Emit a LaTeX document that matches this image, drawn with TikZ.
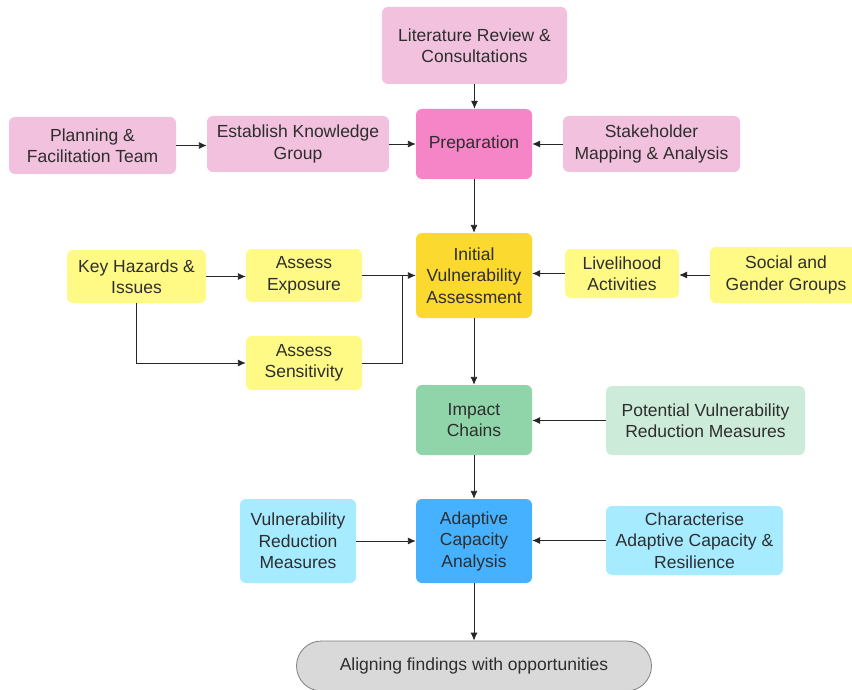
\documentclass[tikz,border=0pt]{standalone}
\usepackage{fontspec}
\setmainfont{Liberation Sans}
\usetikzlibrary{arrows.meta}
\definecolor{pinkL}{HTML}{F1C1DD}
\definecolor{pinkD}{HTML}{F585C7}
\definecolor{yelL}{HTML}{FFFA85}
\definecolor{yelD}{HTML}{FBD92F}
\definecolor{grnD}{HTML}{90D5A9}
\definecolor{grnL}{HTML}{CDEBD9}
\definecolor{bluD}{HTML}{45B1FF}
\definecolor{bluL}{HTML}{A6EBFF}
\definecolor{txt}{HTML}{2E2E2E}
\tikzset{
  box/.style={rectangle, rounded corners=6pt, draw=none, align=center, text=txt,
    font=\fontsize{17.5}{21.5}\selectfont, inner sep=2pt},
  conn/.style={draw=black!85, line width=0.9pt, -{Latex[length=8pt,width=7pt]}},
  plain/.style={draw=black!85, line width=0.9pt}
}
\begin{document}
\begin{tikzpicture}[x=1pt,y=-1pt]
\useasboundingbox (0,0) rectangle (852,690);
\fill[white] (0,0) rectangle (852,690);
% top row
\node[box, fill=pinkL, minimum width=185, minimum height=77] (lit) at (474.5,45.5) {Literature Review \&\\Consultations};
\node[box, fill=pinkD, minimum width=116, minimum height=70] (prep) at (474,144) {Preparation};
\node[box, fill=pinkL, minimum width=167, minimum height=57] (plan) at (92.5,145.5) {Planning \&\\Facilitation Team};
\node[box, fill=pinkL, minimum width=182, minimum height=56] (est) at (298,144) {Establish Knowledge\\Group};
\node[box, fill=pinkL, minimum width=177, minimum height=56] (stk) at (651.5,144) {Stakeholder\\Mapping \& Analysis};
% second row
\node[box, fill=yelD, minimum width=116, minimum height=85] (iva) at (474,275.5) {Initial\\Vulnerability\\Assessment};
\node[box, fill=yelL, minimum width=139, minimum height=53] (kh) at (136.5,276.5) {Key Hazards \&\\Issues};
\node[box, fill=yelL, minimum width=116, minimum height=53] (exp) at (304,275.5) {Assess\\Exposure};
\node[box, fill=yelL, minimum width=116, minimum height=54] (sens) at (304,363) {Assess\\Sensitivity};
\node[box, fill=yelL, minimum width=114, minimum height=49] (liv) at (622,273.5) {Livelihood\\Activities};
\node[box, fill=yelL, minimum width=152, minimum height=56] (soc) at (786,275) {Social and\\Gender Groups};
% third row
\node[box, fill=grnD, minimum width=116, minimum height=70] (imp) at (474,420) {Impact\\Chains};
\node[box, fill=grnL, minimum width=199, minimum height=69] (pot) at (705.5,420.5) {Potential Vulnerability\\Reduction Measures};
% fourth row
\node[box, fill=bluD, minimum width=116, minimum height=84] (ada) at (474,541) {Adaptive\\Capacity\\Analysis};
\node[box, fill=bluL, minimum width=116, minimum height=84] (vrm) at (298,541) {Vulnerability\\Reduction\\Measures};
\node[box, fill=bluL, minimum width=177, minimum height=69] (cha) at (694.5,540.5) {Characterise\\Adaptive Capacity \&\\Resilience};
% bottom
\node[box, fill=black!15, draw=black!50, line width=0.8pt, rounded corners=25pt, minimum width=355, minimum height=50] (ali) at (474,666) {Aligning findings with opportunities};
% connectors
\draw[conn] (lit.south) -- (lit.south |- prep.north);
\draw[conn] (plan.east) -- (plan.east -| est.west);
\draw[conn] (est.east) -- (est.east -| prep.west);
\draw[conn] (stk.west) -- (stk.west -| prep.east);
\draw[conn] (prep) -- (iva);
\draw[conn] (kh.east) -- (kh.east -| exp.west);
\draw[conn] (kh.south) |- (sens.west);
\draw[conn] (exp.east) -- (iva.west);
\coordinate (j) at (402,275.5);
\draw[plain] (sens.east) -| (j);
\draw[conn] (liv.west) -- (liv.west -| iva.east);
\draw[conn] (soc.west) -- (soc.west -| liv.east);
\draw[conn] (iva) -- (imp);
\draw[conn] (pot.west) -- (pot.west -| imp.east);
\draw[conn] (imp) -- (ada);
\draw[conn] (vrm) -- (ada);
\draw[conn] (cha.west) -- (cha.west -| ada.east);
\draw[conn] (ada.south) -- (ali.north);
\end{tikzpicture}
\end{document}
